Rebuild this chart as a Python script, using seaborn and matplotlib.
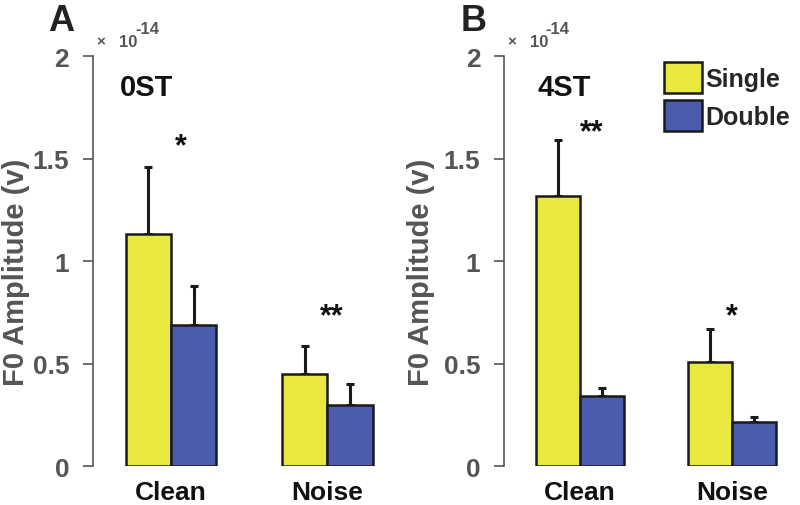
import pandas as pd
import matplotlib.pyplot as plt
import seaborn as sns

# values in units of 1e-14 V
conditions = ["Clean", "Noise"]
stim_types = ["Single", "Double"]

amp_0st_single = [1.13, 0.45]
amp_0st_double = [0.69, 0.30]
err_0st_single = [0.33, 0.135]
err_0st_double = [0.19, 0.10]

amp_4st_single = [1.32, 0.51]
amp_4st_double = [0.34, 0.215]
err_4st_single = [0.27, 0.16]
err_4st_double = [0.04, 0.025]

panel_letters = ["A", "B"]
panel_titles = ["0ST", "4ST"]
stars_0st = ["*", "**"]
stars_4st = ["**", "*"]
star_y_0st = [1.56, 0.73]
star_y_4st = [1.63, 0.73]
star_dx_0st = [0.065, 0.03]
star_dx_4st = [0.08, 0.0]
y_ticks = [0, 0.5, 1, 1.5, 2]
y_ticklabels = ["0", "0.5", "1", "1.5", "2"]

colors = {"Single": "#E8E83E", "Double": "#4A5CAB"}
grey = "#555555"

sns.set_style("white")
plt.rcParams["font.family"] = ["Liberation Sans", "DejaVu Sans"]
plt.rcParams["font.weight"] = "bold"

fig = plt.figure(figsize=(8, 5.06), dpi=100)
ax_a = fig.add_axes([0.116, 0.077, 0.391, 0.81])
ax_b = fig.add_axes([0.63, 0.077, 0.361, 0.81])

panels = [
    (ax_a, amp_0st_single, amp_0st_double, err_0st_single, err_0st_double,
     stars_0st, star_y_0st, star_dx_0st, 1.5, -0.2, -0.325),
    (ax_b, amp_4st_single, amp_4st_double, err_4st_single, err_4st_double,
     stars_4st, star_y_4st, star_dx_4st, 1.4, -0.24, -0.28),
]

for i, (ax, s_vals, d_vals, s_err, d_err, stars, star_y, star_dx, xmax, lab_x, title_x) in enumerate(panels):
    df = pd.DataFrame({
        "condition": conditions * 2,
        "type": ["Single"] * 2 + ["Double"] * 2,
        "amp": s_vals + d_vals,
        "err": s_err + d_err,
    })
    sns.barplot(
        data=df, x="condition", y="amp", hue="type",
        order=conditions, hue_order=stim_types,
        palette=colors, errorbar=None, width=0.58,
        edgecolor="#1a1a1a", linewidth=1.8, saturation=1,
        ax=ax, legend=(i == 1),
    )
    # one-sided error bars on top of each bar
    bars = ax.patches[:4]
    errs = s_err + d_err
    for bar, e in zip(bars, errs):
        xc = bar.get_x() + bar.get_width() / 2
        top = bar.get_height()
        ax.errorbar(xc, top, yerr=[[0], [e]], fmt="none", ecolor="#1a1a1a",
                    elinewidth=2.2, capsize=3, capthick=2.2, zorder=1)
        bar.set_zorder(2)

    # significance stars over each condition
    for j, st in enumerate(stars):
        ax.text(j + star_dx[j], star_y[j], st, ha="center", va="center",
                fontsize=22, fontweight="bold", color="#111111")

    ax.set_ylim(0, 2)
    ax.set_xlim(-0.5, xmax)
    ax.set_yticks(y_ticks)
    ax.set_yticklabels(y_ticklabels, fontsize=19, fontweight="bold", color=grey)
    ax.set_xticks([0, 1])
    ax.set_xticklabels(conditions, fontsize=19, fontweight="bold", color="#111111")
    ax.tick_params(axis="y", direction="out", length=7, width=1.2, color=grey, pad=10, left=True)
    ax.tick_params(axis="x", length=0, pad=10)
    ax.set_xlabel("")
    ax.set_ylabel("F0 Amplitude (v)", fontsize=21, fontweight="bold", color=grey)
    ax.yaxis.set_label_coords(lab_x, 0.476)
    sns.despine(ax=ax, bottom=True)
    ax.spines["left"].set_color(grey)
    ax.spines["left"].set_linewidth(1.2)

    ax.text(title_x, 1.85, panel_titles[i], ha="left", va="center",
            fontsize=21, fontweight="bold", color="#111111")
    ax.text(-0.48, 2.04, "\u00d7", ha="left", va="bottom", fontsize=11, color=grey)
    ax.text(-0.33, 2.035, "10", ha="left", va="bottom", fontsize=12, color=grey)
    ax.text(-0.23, 2.1, "-14", ha="left", va="bottom", fontsize=12, color=grey)
    ax.text(-0.7, 2.09, panel_letters[i], transform=ax.transData, ha="center",
            va="bottom", fontsize=26, fontweight="bold", color="#222222", clip_on=False)

leg = ax_b.legend_
leg.remove()
leg = ax_b.legend(loc="upper left", bbox_to_anchor=(0.52, 1.01), frameon=False,
                  fontsize=18, handlelength=1.5, handleheight=1.5,
                  handletextpad=0.15, labelspacing=0.3, borderaxespad=0)
for t in leg.get_texts():
    t.set_fontweight("bold")

fig.savefig("out.png", dpi=100)
